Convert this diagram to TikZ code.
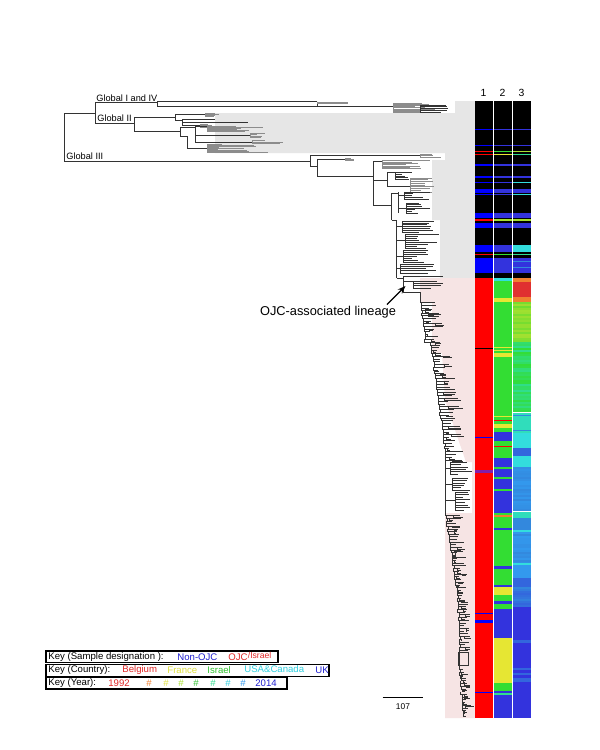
\documentclass[tikz,border=0pt]{standalone}
\usepackage{fontspec}
\setmainfont{Liberation Sans}
\usetikzlibrary{arrows.meta,calc}
\definecolor{hatchgray}{RGB}{230,230,230}
\definecolor{hatchpink}{RGB}{246,228,228}
\definecolor{cred}{HTML}{FF0000}
\definecolor{cblueA}{HTML}{0000FF}
\definecolor{cblue}{HTML}{3333DD}
\definecolor{cgreen}{HTML}{33DD33}
\definecolor{cyellow}{HTML}{E6E633}
\definecolor{ccyan}{HTML}{33DDDD}
\definecolor{corange}{HTML}{F08030}
\definecolor{cyg}{HTML}{A8E030}
\definecolor{cyg2}{HTML}{70DD30}
\definecolor{cteal}{HTML}{30DD90}
\definecolor{ctealB}{HTML}{30DDBB}
\definecolor{clb}{HTML}{3388DD}
\definecolor{clb2}{HTML}{3399EE}
\definecolor{cmb}{HTML}{3366DD}
\definecolor{cpurple}{RGB}{130,30,170}
\definecolor{cred3}{HTML}{E03030}
\definecolor{kblue}{HTML}{2020D0}
\definecolor{kred}{HTML}{E02828}
\definecolor{kyellow}{HTML}{E0E040}
\definecolor{kgreen}{HTML}{30C030}
\definecolor{kcyan}{HTML}{30D0E0}
\tikzset{
  tl/.style={line width=0.28pt, draw=black!80},
  tg/.style={line width=0.28pt, draw=black!45},
  keytxt/.style={font=\fontsize{4.8}{5.5}\selectfont, anchor=west, inner sep=0pt},
  glabel/.style={font=\fontsize{4.6}{5.2}\selectfont, anchor=west, inner sep=0pt},
  collabel/.style={font=\fontsize{5.2}{6}\selectfont, inner sep=0pt},
  keybox/.style={line width=0.6pt, draw=black},
}
% clade: [style] x y0 y1 n tipmin tipmax
\newcommand\clade[7][tl]{%
  \draw[#1] (#2,#3) -- (#2,#4);
  \foreach \k in {0,...,#5}{%
    \pgfmathsetmacro\yy{#3+(#4-#3)*\k/#5}%
    \pgfmathsetmacro\tipx{#6+rnd*(#7-#6)}%
    \draw[#1] (#2,\yy) -- (\tipx,\yy);
  }}
% ladder: [style] xa ya xb yb n leafmin leafmax
\newcommand\ladder[8][tl]{%
  \xdef\lastbx{#2}\xdef\lastby{#3}%
  \foreach \k in {1,...,#6}{%
    \pgfmathsetmacro\yy{#3+(#5-#3)*\k/#6}%
    \pgfmathsetmacro\bx{#2+(#4-#2)*\k/#6+rnd*1.5}%
    \pgfmathsetmacro\tipx{\bx+#7+rnd*(#8-#7)}%
    \pgfmathsetmacro\rr{rnd}%
    \draw[#1] (\lastbx,\lastby) -- (\lastbx,\yy) -- (\tipx,\yy);
    \ifdim\rr pt<0.55pt
      \pgfmathsetmacro\mx{\bx+(\tipx-\bx)*(0.3+0.4*rnd)}%
      \pgfmathsetmacro\tx{\tipx+rnd*6-2}%
      \pgfmathsetmacro\tz{\tipx+rnd*5-3}%
      \draw[#1] (\mx,\yy) -- (\mx,\yy+1.6) -- (\tx,\yy+1.6);
      \ifdim\rr pt<0.25pt
        \draw[#1] (\mx,\yy+1.6) -- (\mx,\yy+2.8) -- (\tz,\yy+2.8);
      \fi
    \fi
    \xdef\lastbx{\bx}\xdef\lastby{\yy}%
  }}
\newcommand\bandA[3]{\fill[#1] (475,#2) rectangle (492.7,#3);}
\newcommand\bandB[3]{\fill[#1] (493.7,#2) rectangle (511.7,#3);}
\newcommand\bandC[3]{\fill[#1] (512.7,#2) rectangle (530.7,#3);}
\begin{document}
\begin{tikzpicture}[x=0.5pt,y=-0.5pt]
\pgfmathsetseed{4242}
\useasboundingbox (0,0) rectangle (600,750);
\fill[white] (0,0) rectangle (600,750);
% ---------- guide hatching ----------
\fill[hatchgray] (455,101) -- (475,101) -- (475,278) -- (440,278) -- (440,220) -- (432,220)
  -- (432,160) -- (445,160) -- (445,153) -- (215,153) -- (215,113) -- (455,113) -- cycle;
\fill[hatchpink] (420,278) -- (475,278) -- (475,718) -- (445,718) -- (445,513) -- (472,513)
  -- (472,462) -- (466,462) -- (455,430) -- (445,400) -- (442,353) -- (432,353) -- (432,303)
  -- (420,303) -- cycle;
% ---------- tree: root ----------
\draw[tl] (64,113) -- (64,161);
\draw[tl] (64,113) -- (95,113);
\draw[tl] (95,102.7) -- (95,123.3);
% Global I and IV
\draw[tl] (95,102.7) -- (157,102.7);
\draw[tl] (157,101.7) -- (157,106.7);
\draw[tl] (157,101.7) -- (317,101.7);
\draw[tl] (157,106.7) -- (317,106.7);
\draw[tl] (317,101.7) -- (317,106.7);
\draw[tg,line width=0.8pt] (317,103) -- (348,103);
\draw[tl] (317,106.7) -- (393,106.7);
\clade[tg]{393}{103.5}{112}{8}{415}{440}
\clade[tl]{420}{105}{112}{4}{440}{460}
% Global II
\draw[tl] (95,123.3) -- (134,123.3);
\draw[tl] (134,117.3) -- (134,131.7);
\draw[tl] (134,117.3) -- (175,117.3);
\draw[tl] (175,114.3) -- (175,120.7);
\draw[tl] (175,114.3) -- (205,114.3);
\clade[tg]{205}{113}{116}{3}{211}{220}
\draw[tl] (175,120.7) -- (182,120.7);
\draw[tl] (182,119.3) -- (182,125);
\draw[tl] (182,119.3) -- (215,119.3);
\draw[tl] (182,122.3) -- (248,122.3);
\draw[tl] (182,125) -- (200,125);
\clade[tg]{200}{124}{127.5}{3}{205}{217}
\draw[tl] (134,131.7) -- (180,131.7);
\draw[tl] (180,127.7) -- (180,136);
\draw[tl] (180,127.7) -- (195,127.7);
\draw[tl] (195,126.5) -- (195,142);
\draw[tl] (195,126.5) -- (207,126.5);
\clade[tg]{207}{126}{131}{6}{235}{267}
\draw[tl] (195,135) -- (250,135);
\clade[tg]{250}{133}{137.5}{3}{255}{265}
\draw[tl] (195,142) -- (252,142);
\clade[tg]{252}{140.5}{143.5}{2}{262}{285}
\draw[tl] (180,136) -- (187,136);
\draw[tl] (187,136) -- (187,148);
\draw[tl] (187,148) -- (207,148);
\clade[tg]{207}{144.5}{152}{8}{218}{273}
% Global III
\draw[tl] (64,161) -- (310,161);
\draw[tl] (310,155) -- (310,166.7);
\draw[tl] (310,155) -- (420,155);
\clade[tg]{420}{154}{157}{2}{428}{445}
\draw[tl] (310,166.7) -- (317,166.7);
\draw[tl] (317,159) -- (317,176);
\draw[tl] (317,159) -- (345,159);
\clade[tg]{345}{158}{160}{2}{350}{356}
\draw[tl] (317,176) -- (373,176);
\draw[tl] (373,161.7) -- (373,205);
\draw[tl] (373,161.7) -- (382,161.7);
\clade[tg]{382}{160.5}{168.5}{6}{405}{430}
\draw[tl] (373,180) -- (387,180);
\draw[tl] (387,172.7) -- (387,186);
\clade[tl]{395}{172.7}{179}{4}{400}{415}
\draw[tl] (387,172.7) -- (395,172.7);
\draw[tl] (387,186) -- (410,186);
\clade[tg]{410}{178}{192}{8}{420}{435}
\draw[tl] (373,205) -- (391.7,205);
\draw[tl] (391.7,193.3) -- (391.7,220);
\draw[tl] (391.7,193.3) -- (398,193.3);
\draw[tl] (398,192) -- (398,213);
\clade[tl]{404}{192}{199}{4}{412}{432}
\draw[tl] (398,195.5) -- (404,195.5);
\clade[tl]{406}{203}{213}{6}{412}{430}
\draw[tl] (398,208) -- (406,208);
\draw[tl] (391.7,220) -- (396.7,220);
\draw[tl] (396.7,220) -- (396.7,278);
\draw[tl] (396.7,226) -- (402,226);
\clade[tl]{402}{221}{232}{6}{413}{440}
\draw[tl] (396.7,240) -- (405,240);
\clade[tl]{405}{234}{248}{7}{416}{443}
\draw[tl] (396.7,256) -- (403,256);
\clade[tl]{403}{250}{262}{6}{412}{440}
\draw[tl] (396.7,268) -- (400,268);
\clade[tl]{400}{264}{273}{4}{410}{438}
% OJC-associated lineage
\draw[tl] (396.7,278) -- (403,278);
\draw[tl] (403,276) -- (403,292);
\draw[tl] (403,276) -- (443,276);
\draw[tl] (403,281) -- (413,281);
\clade[tl]{413}{281}{288}{3}{420}{443}
\draw[tl] (403,292) -- (420,292);
\draw[tl] (420,292) -- (420,300);
\ladder{420}{300}{425}{342}{16}{3}{20}
\draw[tl] (425,342) -- (430,342);
\ladder{430}{342}{446}{460}{42}{3}{20}
\draw[tl] (445,455) -- (445,513);
\draw[tl] (445,468) -- (450,468);
\clade[tl]{450}{462}{474}{5}{456}{473}
\draw[tl] (445,484) -- (452,484);
\clade[tl]{452}{478}{490}{5}{460}{473}
\draw[tl] (445,500) -- (455,500);
\clade[tl]{455}{492}{510}{7}{462}{473}
\ladder{445}{513}{452}{563}{19}{3}{15}
\ladder{452}{563}{457}{593}{11}{3}{13}
\ladder{457}{593}{459}{650}{21}{3}{11}
\draw[tl] (458,652) rectangle (468,665);
\draw[tl] (459,650) -- (459,667);
\ladder{459}{667}{462}{716}{18}{2}{9}
% ---------- columns ----------
% column 1
\bandA{black}{101}{277.7}
\bandA{cblueA}{128.5}{130}
\bandA{cblueA}{144.8}{146}
\bandA{cred}{150.5}{152}
\bandA{cred}{153.8}{155.3}
\bandA{cblueA}{164.2}{165.5}
\bandA{cblueA}{176.2}{177.5}
\bandA{cblueA}{181.5}{183}
\bandA{cblueA}{189.3}{192.7}
\bandA{cblueA}{194}{195}
\bandA{cblueA}{213.3}{218.3}
\bandA{cred}{219}{221}
\bandA{cblueA}{223.3}{228.3}
\bandA{cblueA}{245}{251.7}
\bandA{cred}{253.5}{255}
\bandA{cblueA}{258.3}{273.3}
\bandA{cred}{277.7}{718.3}
\bandA{black}{347.8}{348.8}
\bandA{cblueA}{437}{438}
\bandA{cpurple}{470}{473.3}
\bandA{cblueA}{613}{614}
\bandA{cblueA}{620}{622.7}
\bandA{cblueA}{692}{693}
% column 2
\bandB{black}{101}{277.7}
\bandB{cblue}{128.5}{130}
\bandB{cblue}{144.8}{146}
\bandB{cgreen}{150.5}{152}
\bandB{cyellow}{153.8}{155.3}
\bandB{cblue}{164.2}{165.5}
\bandB{cblue}{176.2}{177.5}
\bandB{cblue}{181.5}{183}
\bandB{cblue}{189.3}{192.7}
\bandB{cblue}{194}{195}
\bandB{cblue}{213.3}{218.3}
\bandB{cyg}{219}{221}
\bandB{cblue}{223.3}{228.3}
\bandB{cblue}{245}{251.7}
\bandB{cgreen}{253.5}{255}
\bandB{cblue}{258.3}{273.3}
\bandB{ccyan}{277.7}{281}
\bandB{cgreen}{281}{718.3}
\bandB{cyellow}{298.3}{301.7}
\bandB{cyellow}{346.7}{347.5}
\bandB{cyellow}{349.5}{350.5}
\bandB{cyellow}{353.3}{357.3}
\bandB{cyellow}{416}{417}
\bandB{cred}{420.3}{421.3}
\bandB{cyellow}{424.3}{427.7}
\bandB{cblue}{432.3}{441}
\bandB{cred}{446}{447.3}
\bandB{cblue}{457.5}{466.7}
\bandB{cblue}{469.3}{477.3}
\bandB{cblue}{479.3}{489.3}
\bandB{cblue}{491.3}{512.7}
\bandB{corange}{515}{516.7}
\bandB{cblue}{528.3}{530}
\bandB{cblue}{566}{568.7}
\bandB{cblue}{585}{587.3}
\bandB{cyellow}{587.3}{595}
\bandB{cblue}{600.7}{604}
\bandB{cblue}{608.7}{637.7}
\bandB{cyellow}{637.7}{683.3}
\bandB{cblue}{690.7}{692.7}
\bandB{cteal}{692.7}{695}
\bandB{cblue}{695}{718.3}
% column 3
\bandC{black}{101}{277.7}
\bandC{cblue}{128.5}{130}
\bandC{cblue}{144.8}{146}
\bandC{cyg}{150.5}{152}
\bandC{cteal}{153.8}{155.3}
\bandC{cblue}{164.2}{165.5}
\bandC{cblue}{176.2}{177.5}
\bandC{ccyan}{181.5}{183}
\bandC{cblue}{189.3}{192.7}
\bandC{ccyan}{194}{195}
\bandC{cblue}{213.3}{218.3}
\bandC{cyg}{219}{221}
\bandC{cblue}{223.3}{228.3}
\bandC{ccyan}{245}{251.7}
\bandC{cteal}{253.5}{255}
\bandC{cblue}{258.3}{273.3}
\bandC{clb}{261}{262}
\bandC{clb}{267}{268}
\bandC{corange}{277.7}{281.7}
\bandC{cred3}{281.7}{296.7}
\bandC{corange}{296.7}{301.7}
\foreach \yy in {301.7,303.7,...,340}{%
  \pgfmathtruncatemacro\mm{rnd*100}%
  \fill[cyg!\mm!cyg2] (512.7,\yy) rectangle (530.7,\yy+2.05);}
\foreach \yy in {341.7,343.7,...,411}{%
  \pgfmathtruncatemacro\mm{rnd*100}%
  \fill[cgreen!\mm!cteal] (512.7,\yy) rectangle (530.7,\yy+2.05);}
\bandC{ctealB}{413}{433}
\bandC{clb}{415}{416}
\bandC{clb}{430}{431}
\bandC{ccyan}{433}{448}
\bandC{cmb}{448}{456}
\bandC{ccyan}{456}{466.7}
\foreach \yy in {466.7,468.7,...,510}{%
  \pgfmathtruncatemacro\mm{rnd*100}%
  \fill[clb!\mm!clb2] (512.7,\yy) rectangle (530.7,\yy+2.05);}
\bandC{ctealB}{511.7}{518.3}
\bandC{clb}{518.3}{530}
\bandC{ccyan}{530}{531.7}
\foreach \yy in {531.7,533.7,...,562}{%
  \pgfmathtruncatemacro\mm{rnd*100}%
  \fill[clb!\mm!clb2] (512.7,\yy) rectangle (530.7,\yy+2.05);}
\bandC{ccyan}{563.3}{565}
\bandC{clb2}{565}{578}
\bandC{cmb}{578}{586.7}
\foreach \yy in {586.7,588.7,...,605}{%
  \pgfmathtruncatemacro\mm{rnd*100}%
  \fill[clb!\mm!cmb] (512.7,\yy) rectangle (530.7,\yy+2.05);}
\bandC{cblue}{606.7}{718.3}
\bandC{cmb}{640}{643}
\bandC{cmb}{668}{670}
\bandC{cmb}{673}{675}
\bandC{cmb}{678}{682}
% column labels
\node[collabel] (c1) at (483.5,93) {1};
\node[collabel] (c2) at (502.5,93) {2};
\node[collabel] (c3) at (521.5,93) {3};
% clade labels
\node[glabel] (g14) at (96,98) {Global I and IV};
\node[glabel] (g2) at (97,118.5) {Global II};
\node[glabel] (g3) at (66,156) {Global III};
\node[font=\fontsize{6.4}{7.5}\selectfont, inner sep=0pt] (ojc) at (328,312) {OJC-associated lineage};
\coordinate (arrstart) at (387,304.5);
\coordinate (arrtip) at (405.5,286);
\draw[line width=0.6pt, -{Stealth[length=4pt,width=3pt]}] (arrstart) -- (arrtip);
% scale bar
\coordinate (sb1) at (382.7,697.3);
\coordinate (sb2) at (423.3,697.3);
\draw[line width=0.5pt] (sb1) -- (sb2);
\node[font=\fontsize{4.2}{5}\selectfont, inner sep=0pt] (sbl) at (403,706.7) {107};
% ---------- key ----------
\draw[keybox] (46,651) rectangle (278,662.3);
\draw[keybox] (46,664.3) rectangle (329,676.7);
\draw[keybox] (46,677.7) rectangle (287,689);
\node[keytxt] (k1a) at (48,656.7) {Key (Sample designation ):};
\node[keytxt, text=kblue] (k1b) at (177,656.7) {Non-OJC};
\node[keytxt, text=kred] (k1c) at (228,656.9) {OJC};
\node[keytxt, text=kred, font=\fontsize{4.3}{5}\selectfont] (k1d) at (247.5,655.6) {/Israel};
\node[keytxt] (k2a) at (48,670.5) {Key (Country):};
\node[keytxt, text=kred] (k2b) at (122,670.5) {Belgium};
\node[keytxt, text=kyellow] (k2c) at (167,670.5) {France};
\node[keytxt, text=kgreen] (k2d) at (207,670.5) {Israel};
\node[keytxt, text=kcyan] (k2e) at (244,669.3) {USA\&Canada};
\node[keytxt, text=kblue] (k2f) at (315,670.5) {UK};
\node[keytxt] (k3a) at (48,683.3) {Key (Year):};
\node[keytxt, text=kred] (k3b) at (108,683.3) {1992};
\node[keytxt, text=corange] (k3c) at (146,683.3) {\#};
\node[keytxt, text=kyellow] (k3d) at (163,683.3) {\#};
\node[keytxt, text=cyg] (k3e) at (178,683.3) {\#};
\node[keytxt, text=kgreen] (k3f) at (193,683.3) {\#};
\node[keytxt, text=cteal] (k3g) at (210,683.3) {\#};
\node[keytxt, text=kcyan] (k3h) at (225,683.3) {\#};
\node[keytxt, text=clb2] (k3i) at (240,683.3) {\#};
\node[keytxt, text=kblue] (k3j) at (255,683.3) {2014};
\end{tikzpicture}
\end{document}
